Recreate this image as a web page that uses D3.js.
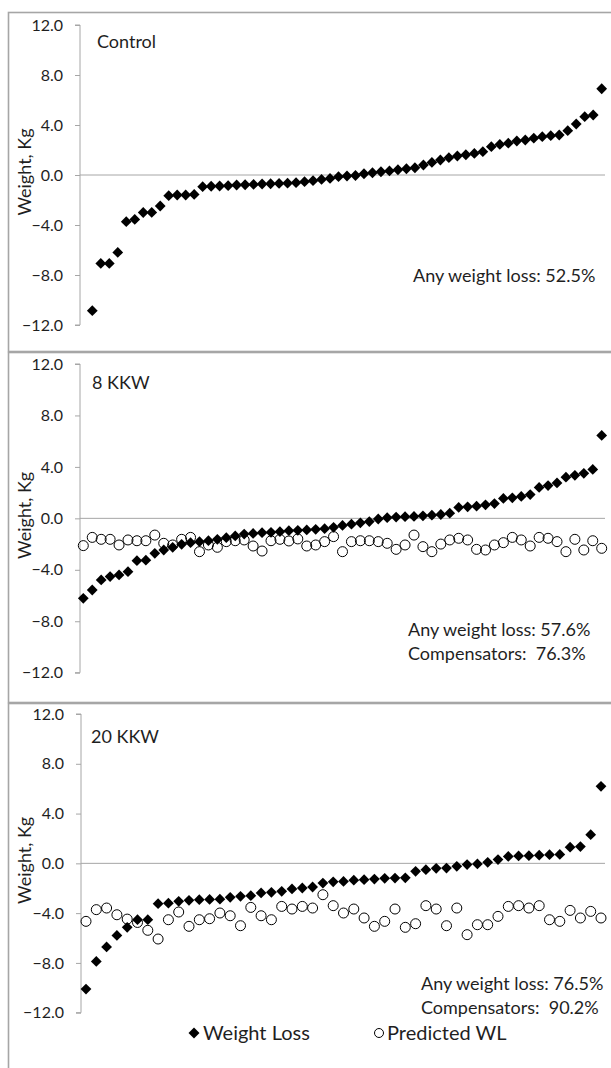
<!DOCTYPE html>
<html>
<head>
<meta charset="utf-8">
<script src="https://cdn.jsdelivr.net/npm/d3@7"></script>
<style>
  html, body { margin: 0; padding: 0; background: #fff; }
  svg { display: block; }
  text { font-family: Lato, "Noto Sans", sans-serif; fill: #1f1f1f; }
</style>
</head>
<body>
<div id="chart"></div>
<script>
// values, sorted weight change per participant (kg)
const panelNames = ["Control", "8 KKW", "20 KKW"];

const controlWeightLoss = [
  -10.85, -7.07, -7.07, -6.19, -3.73, -3.55, -3.0, -2.99, -2.48, -1.65,
  -1.6, -1.6, -1.55, -0.93, -0.9, -0.88, -0.85, -0.8, -0.78, -0.75,
  -0.72, -0.7, -0.67, -0.65, -0.61, -0.53, -0.45, -0.35, -0.27, -0.13,
  -0.08, -0.04, 0.1, 0.18, 0.26, 0.33, 0.42, 0.5, 0.58, 0.8,
  1.01, 1.2, 1.39, 1.52, 1.62, 1.73, 1.87, 2.27, 2.45, 2.55,
  2.72, 2.8, 2.95, 3.07, 3.15, 3.2, 3.55, 4.08, 4.67, 4.8,
  6.9
];

const kkw8WeightLoss = [
  -6.22, -5.57, -4.79, -4.53, -4.4, -4.15, -3.29, -3.25, -2.72, -2.46,
  -2.25, -2.02, -1.89, -1.81, -1.74, -1.63, -1.5, -1.37, -1.22, -1.17,
  -1.11, -1.09, -1.04, -0.96, -0.93, -0.9, -0.85, -0.8, -0.7, -0.55,
  -0.45, -0.35, -0.25, -0.05, 0.05, 0.1, 0.13, 0.15, 0.2, 0.25,
  0.3, 0.4, 0.85, 0.9, 0.95, 1.05, 1.15, 1.55, 1.6, 1.7,
  1.85, 2.4, 2.55, 2.75, 3.2, 3.35, 3.5, 3.8, 6.45
];

const kkw8Predicted = [
  -2.12, -1.48, -1.63, -1.63, -2.07, -1.68, -1.74, -1.74, -1.3, -1.94,
  -2.07, -1.63, -1.48, -2.59, -2.07, -2.25, -1.81, -1.74, -1.68, -2.15,
  -2.54, -1.74, -1.63, -1.76, -1.6, -2.15, -2.07, -1.81, -1.42, -2.59,
  -1.81, -1.74, -1.74, -1.81, -1.94, -2.41, -2.07, -1.3, -2.2, -2.59,
  -2.0, -1.68, -1.55, -1.68, -2.41, -2.46, -2.07, -1.89, -1.48, -1.68,
  -2.15, -1.48, -1.55, -1.81, -2.59, -1.63, -2.46, -1.74, -2.33
];

const kkw20WeightLoss = [
  -10.1, -7.88, -6.72, -5.79, -5.14, -4.53, -4.53, -3.24, -3.2, -3.05,
  -2.97, -2.92, -2.9, -2.88, -2.73, -2.65, -2.6, -2.38, -2.33, -2.25,
  -2.06, -1.98, -1.9, -1.58, -1.48, -1.45, -1.35, -1.31, -1.26, -1.2,
  -1.18, -1.16, -0.64, -0.51, -0.4, -0.38, -0.24, -0.1, -0.05, 0.08,
  0.3, 0.56, 0.6, 0.62, 0.66, 0.7, 0.72, 1.3, 1.35, 2.3,
  6.19
];

const kkw20Predicted = [
  -4.66, -3.72, -3.59, -4.13, -4.48, -4.75, -5.38, -6.08, -4.53, -3.91,
  -5.06, -4.53, -4.45, -3.99, -4.21, -5.01, -3.54, -4.21, -4.53, -3.46,
  -3.67, -3.46, -3.59, -2.52, -3.4, -3.99, -3.67, -4.39, -5.06, -4.66,
  -3.67, -5.14, -4.85, -3.4, -3.67, -5.01, -3.59, -5.73, -4.93, -4.93,
  -4.26, -3.46, -3.4, -3.59, -3.4, -4.53, -4.66, -3.78, -4.39, -3.86,
  -4.39
];

const panelNotes = [
  ["Any weight loss: 52.5%"],
  ["Any weight loss: 57.6%", "Compensators:  76.3%"],
  ["Any weight loss: 76.5%", "Compensators:  90.2%"]
];

const yTicks = [-12, -8, -4, 0, 4, 8, 12];
const yLabel = "Weight, Kg";
const legendLabels = ["Weight Loss", "Predicted WL"];

const width = 611;
const height = 1068;
const gridColor = "#a6a6a6";

// panel placement in page pixels
const panels = [
  {
    name: panelNames[0], loss: controlWeightLoss, predicted: null, notes: panelNotes[0],
    boxTop: 12, boxBottom: 351, axisX: 80, yRange: [325, 25], xRange: [92.3, 601.7],
    titleX: 97, titleY: 48, noteX: 413, noteY: 282
  },
  {
    name: panelNames[1], loss: kkw8WeightLoss, predicted: kkw8Predicted, notes: panelNotes[1],
    boxTop: 352, boxBottom: 702, axisX: 80, yRange: [672.7, 364], xRange: [83.3, 601.7],
    titleX: 92, titleY: 389, noteX: 408, noteY: 636
  },
  {
    name: panelNames[2], loss: kkw20WeightLoss, predicted: kkw20Predicted, notes: panelNotes[2],
    boxTop: 703, boxBottom: 1090, axisX: 81, yRange: [1012.7, 714], xRange: [86, 601],
    titleX: 91, titleY: 743, noteX: 421, noteY: 990
  }
];

const svg = d3.select("#chart")
  .append("svg")
  .attr("width", width)
  .attr("height", height)
  .attr("viewBox", `0 0 ${width} ${height}`);

const diamond = d3.symbol().type(d3.symbolSquare).size(58);
const zeroLineEnd = 605;

panels.forEach((panel) => {
  const g = svg.append("g");

  g.append("rect")
    .attr("x", 8.5)
    .attr("y", panel.boxTop + 0.5)
    .attr("width", width + 20)
    .attr("height", panel.boxBottom - panel.boxTop)
    .attr("fill", "none")
    .attr("stroke", gridColor)
    .attr("stroke-width", 1.6);

  const y = d3.scaleLinear().domain([-12, 12]).range(panel.yRange);
  const x = d3.scaleLinear().domain([1, panel.loss.length]).range(panel.xRange);

  const yAxis = g.append("g")
    .attr("transform", `translate(${panel.axisX},0)`)
    .call(d3.axisLeft(y).tickValues(yTicks).tickSize(5).tickPadding(12)
      .tickFormat(d3.format(".1f")))
    .call((axis) => axis.selectAll("path, line").attr("stroke", gridColor))
    .call((axis) => axis.selectAll("text")
      .attr("fill", "#1f1f1f")
      .style("font-size", "16px")
      .style("font-family", "Lato, 'Noto Sans', sans-serif"));
  yAxis.select(".domain").attr("d", `M-5,${y(12)}H0V${y(-12)}H-5`);

  g.append("line")
    .attr("x1", panel.axisX)
    .attr("x2", zeroLineEnd)
    .attr("y1", y(0))
    .attr("y2", y(0))
    .attr("stroke", gridColor)
    .attr("stroke-width", 1);

  g.append("text")
    .attr("transform", `translate(25,${y(0) - 3}) rotate(-90)`)
    .attr("text-anchor", "middle")
    .attr("dy", "0.35em")
    .style("font-size", "18px")
    .text(yLabel);

  g.append("text")
    .attr("x", panel.titleX)
    .attr("y", panel.titleY)
    .style("font-size", "18px")
    .text(panel.name);

  g.selectAll("path.loss")
    .data(panel.loss)
    .enter()
    .append("path")
    .attr("class", "loss")
    .attr("d", diamond)
    .attr("transform", (d, i) => `translate(${x(i + 1)},${y(d)}) rotate(45)`)
    .attr("fill", "#000");

  if (panel.predicted) {
    g.selectAll("circle.predicted")
      .data(panel.predicted)
      .enter()
      .append("circle")
      .attr("class", "predicted")
      .attr("cx", (d, i) => x(i + 1))
      .attr("cy", (d) => y(d))
      .attr("r", 5)
      .attr("fill", "none")
      .attr("stroke", "#000")
      .attr("stroke-width", 1);
  }

  panel.notes.forEach((note, i) => {
    g.append("text")
      .attr("x", panel.noteX)
      .attr("y", panel.noteY + i * 24)
      .style("font-size", "18px")
      .style("white-space", "pre")
      .text(note);
  });
});

// legend at the foot of the last panel
const legend = svg.append("g").attr("transform", "translate(0,1033)");

legend.append("path")
  .attr("d", d3.symbol().type(d3.symbolSquare).size(60))
  .attr("transform", "translate(194,0) rotate(45)")
  .attr("fill", "#000");

legend.append("text")
  .attr("x", 203)
  .attr("y", 7)
  .style("font-size", "20px")
  .text(legendLabels[0]);

legend.append("circle")
  .attr("cx", 379)
  .attr("cy", 0)
  .attr("r", 4.5)
  .attr("fill", "none")
  .attr("stroke", "#000");

legend.append("text")
  .attr("x", 387)
  .attr("y", 7)
  .style("font-size", "20px")
  .text(legendLabels[1]);
</script>
</body>
</html>
